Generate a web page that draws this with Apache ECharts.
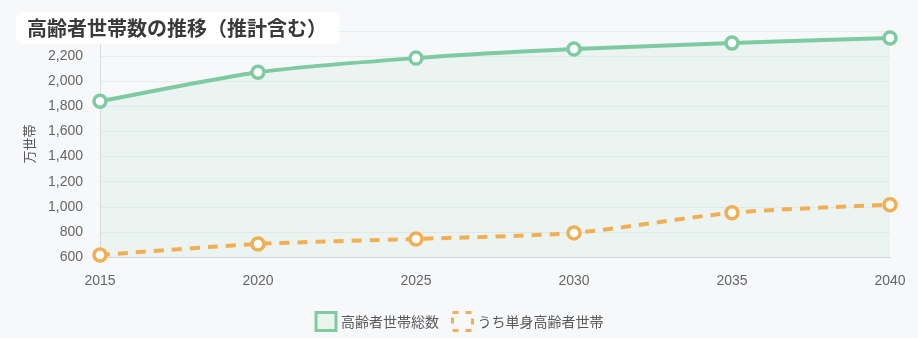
<!DOCTYPE html>
<html><head><meta charset="utf-8">
<script src="https://cdn.jsdelivr.net/npm/echarts@6/dist/echarts.min.js"></script>
<style>html,body{margin:0;padding:0;background:#f7f8fa;}#c{width:918px;height:338px;}</style>
</head><body><div id="c"></div>
<script>
const years = ['2015','2020','2025','2030','2035','2040'];
const totalHouseholds = [1840, 2072, 2184, 2256, 2304, 2344];
const singleHouseholds = [616, 704, 744, 792, 952, 1016];
const seriesNames = ['高齢者世帯総数', 'うち単身高齢者世帯'];
const titleText = '高齢者世帯数の推移（推計含む）';
const yAxisName = '万世帯';

const chart = echarts.init(document.getElementById('c'));
chart.setOption({
  backgroundColor: '#f7f8fa',
  animation: false,
  title: {
    text: titleText, left: 16, top: 12,
    backgroundColor: '#ffffff', borderRadius: 6,
    padding: [6, 12, 6, 11],
    textStyle: { fontFamily: 'Noto Sans CJK JP', fontSize: 20, fontWeight: 'bold', color: '#3a3a3a' }
  },
  legend: {
    top: 306, left: 'center', itemWidth: 20, itemHeight: 18, itemGap: 12,
    textStyle: { fontFamily: 'Noto Sans CJK JP', fontSize: 14, color: '#5a5a5a' },
    data: [
      { name: seriesNames[0], icon: 'rect',
        itemStyle: { color: '#e9f4ee', borderColor: '#7ecba1', borderWidth: 3 } },
      { name: seriesNames[1], icon: 'rect',
        itemStyle: { color: 'rgba(0,0,0,0)', borderColor: '#f2ae55', borderWidth: 3, borderType: [6, 7] } }
    ]
  },
  grid: { left: 100, right: 28, top: 31, bottom: 81 },
  xAxis: {
    type: 'category', data: years, boundaryGap: false,
    axisLine: { lineStyle: { color: '#d0d4d8' } },
    axisTick: { show: false },
    axisLabel: { color: '#666', fontSize: 14, margin: 17, fontFamily: 'Liberation Sans' }
  },
  yAxis: {
    type: 'value', min: 600, max: 2400, interval: 200,
    name: yAxisName, nameLocation: 'middle', nameGap: 64, nameRotate: 90,
    nameTextStyle: { color: '#555', fontSize: 13, fontFamily: 'Noto Sans CJK JP' },
    axisLine: { show: true, lineStyle: { color: '#d8dce0' } },
    axisTick: { show: false },
    splitLine: { lineStyle: { color: '#e8ecee' } },
    axisLabel: { color: '#666', fontSize: 14, margin: 17, fontFamily: 'Liberation Sans',
      formatter: v => v.toLocaleString('en-US') }
  },
  series: [
    {
      name: seriesNames[0], type: 'line', data: totalHouseholds, smooth: 0.2,
      symbol: 'circle', symbolSize: 12, showAllSymbol: true,
      lineStyle: { color: '#7ecba1', width: 4 },
      itemStyle: { color: '#ffffff', borderColor: '#7ecba1', borderWidth: 3.5 },
      areaStyle: { color: 'rgba(126,203,161,0.12)', origin: 'start' }
    },
    {
      name: seriesNames[1], type: 'line', data: singleHouseholds, smooth: 0.25,
      symbol: 'circle', symbolSize: 12,
      lineStyle: { color: '#f2ae55', width: 4, type: [10, 8] },
      itemStyle: { color: '#ffffff', borderColor: '#f2ae55', borderWidth: 3.5 }
    }
  ]
});
</script></body></html>
